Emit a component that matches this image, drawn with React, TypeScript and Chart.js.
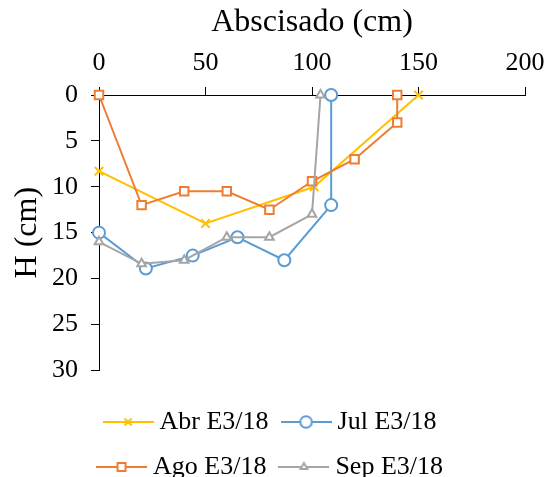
import React, { useEffect, useRef } from 'react';
import { Chart, registerables } from 'chart.js';

Chart.register(...registerables);

const FONT = "'Liberation Serif', 'Times New Roman', serif";

// Data
const seriesNames = ['Abr E3/18', 'Jul E3/18', 'Ago E3/18', 'Sep E3/18'];
const seriesColors = ['#FFC000', '#5B9BD5', '#ED7D31', '#A5A5A5'];

const abrX = [0, 50, 101, 150];
const abrY = [8.3, 14, 10, 0];

const julX = [0, 22, 44, 65, 87, 109, 109];
const julY = [15, 18.9, 17.5, 15.5, 18, 12, 0];

const agoX = [0, 20, 40, 60, 80, 100, 120, 140, 140];
const agoY = [0, 12, 10.5, 10.5, 12.5, 9.4, 7, 3, 0];

const sepX = [0, 20, 40, 60, 80, 100, 104];
const sepY = [16, 18.4, 18, 15.5, 15.5, 13, 0];

const xTicksStep = 50;
const yTicksStep = 5;

function pts(xs: number[], ys: number[]) {
  return xs.map((x, i) => ({ x, y: ys[i] }));
}

function makeIcon(color: string, style: string) {
  const c = document.createElement('canvas');
  c.width = 51;
  c.height = 18;
  const ctx = c.getContext('2d')!;
  ctx.strokeStyle = color;
  ctx.lineWidth = 2;
  ctx.beginPath();
  ctx.moveTo(0, 9);
  ctx.lineTo(51, 9);
  ctx.stroke();
  ctx.fillStyle = '#fff';
  const cx = 25.5, cy = 9;
  ctx.beginPath();
  if (style === 'circle') {
    ctx.arc(cx, cy, 5.8, 0, Math.PI * 2);
    ctx.fill();
    ctx.stroke();
  } else if (style === 'rect') {
    ctx.rect(cx - 4, cy - 4, 8, 8);
    ctx.fill();
    ctx.stroke();
  } else if (style === 'triangle') {
    const r = 4;
    ctx.moveTo(cx, cy - r);
    ctx.lineTo(cx + r * 0.866, cy + r * 0.5);
    ctx.lineTo(cx - r * 0.866, cy + r * 0.5);
    ctx.closePath();
    ctx.fill();
    ctx.stroke();
  } else {
    const d = 3.5;
    ctx.moveTo(cx - d, cy - d);
    ctx.lineTo(cx + d, cy + d);
    ctx.moveTo(cx + d, cy - d);
    ctx.lineTo(cx - d, cy + d);
    ctx.stroke();
  }
  return c;
}

export default function App() {
  const ref = useRef<HTMLCanvasElement | null>(null);

  useEffect(() => {
    if (!ref.current) return;
    const styles = ['crossRot', 'circle', 'rect', 'triangle'];
    const radii = [6, 6, 6, 5];
    const data = [pts(abrX, abrY), pts(julX, julY), pts(agoX, agoY), pts(sepX, sepY)];
    const icons = styles.map((s, i) => makeIcon(seriesColors[i], s));

    const chart = new Chart(ref.current, {
      type: 'line',
      data: {
        datasets: seriesNames.map((name, i) => ({
          label: name,
          data: data[i],
          borderColor: seriesColors[i],
          backgroundColor: '#fff',
          borderWidth: 2,
          pointStyle: styles[i] as any,
          pointRadius: radii[i],
          pointBorderWidth: 2,
          pointBackgroundColor: '#fff',
          pointBorderColor: seriesColors[i],
          tension: 0,
          fill: false,
          clip: false as any,
          order: 4 - i,
        })),
      },
      options: {
        animation: false,
        responsive: false,
        devicePixelRatio: 1,
        layout: { padding: { left: 21, right: 23, top: 0, bottom: 0 } },
        plugins: {
          tooltip: { enabled: false },
          legend: {
            display: true,
            position: 'bottom',
            title: { display: true, text: '', padding: 0, font: { size: 19.7, lineHeight: 1 } },
            labels: {
              usePointStyle: true,
              pointStyleWidth: 37,
              padding: 19,
              color: '#000',
              font: { family: FONT, size: 26 },
              generateLabels: (ch: any) =>
                ch.data.datasets.map((ds: any, i: number) => ({
                  text: ds.label,
                  pointStyle: icons[i],
                  fillStyle: ds.borderColor,
                  strokeStyle: ds.borderColor,
                  lineWidth: 0,
                  hidden: false,
                  datasetIndex: i,
                  fontColor: '#000',
                })),
            },
          },
        },
        scales: {
          x: {
            type: 'linear',
            position: 'top',
            min: 0,
            max: 200,
            ticks: {
              stepSize: xTicksStep,
              color: '#000',
              font: { family: FONT, size: 26 },
              padding: 8,
              maxRotation: 0,
            },
            grid: {
              display: true,
              drawOnChartArea: false,
              drawTicks: true,
              tickLength: 8,
              color: '#000',
              tickColor: '#000',
            },
            border: { display: true, color: '#000', width: 1 },
            title: {
              display: true,
              text: 'Abscisado (cm)',
              color: '#000',
              font: { family: FONT, size: 32 },
              padding: { top: 3, bottom: 0 },
            },
            afterFit: (s: any) => {
              s.height = 95;
              s.paddingRight = 0;
            },
          },
          y: {
            type: 'linear',
            reverse: true,
            min: 0,
            max: 30,
            ticks: {
              stepSize: yTicksStep,
              color: '#000',
              font: { family: FONT, size: 26 },
              padding: 13,
            },
            grid: {
              display: true,
              drawOnChartArea: false,
              drawTicks: true,
              tickLength: 8,
              color: '#000',
              tickColor: '#000',
            },
            border: { display: true, color: '#000', width: 1 },
            title: {
              display: true,
              text: 'H (cm)',
              color: '#000',
              font: { family: FONT, size: 32 },
              padding: { top: -13, bottom: 0 },
            },
            afterFit: (s: any) => {
              s.width = 78;
              s.paddingTop = 0;
              s.paddingBottom = 0;
            },
          },
        },
      } as any,
    });
    return () => chart.destroy();
  }, []);

  return (
    <div
      style={{
        position: 'fixed',
        left: 0,
        top: 0,
        width: 548,
        height: 477,
        overflow: 'hidden',
        background: '#fff',
      }}
    >
      <canvas ref={ref} width={548} height={490} style={{ display: 'block' }} />
    </div>
  );
}
